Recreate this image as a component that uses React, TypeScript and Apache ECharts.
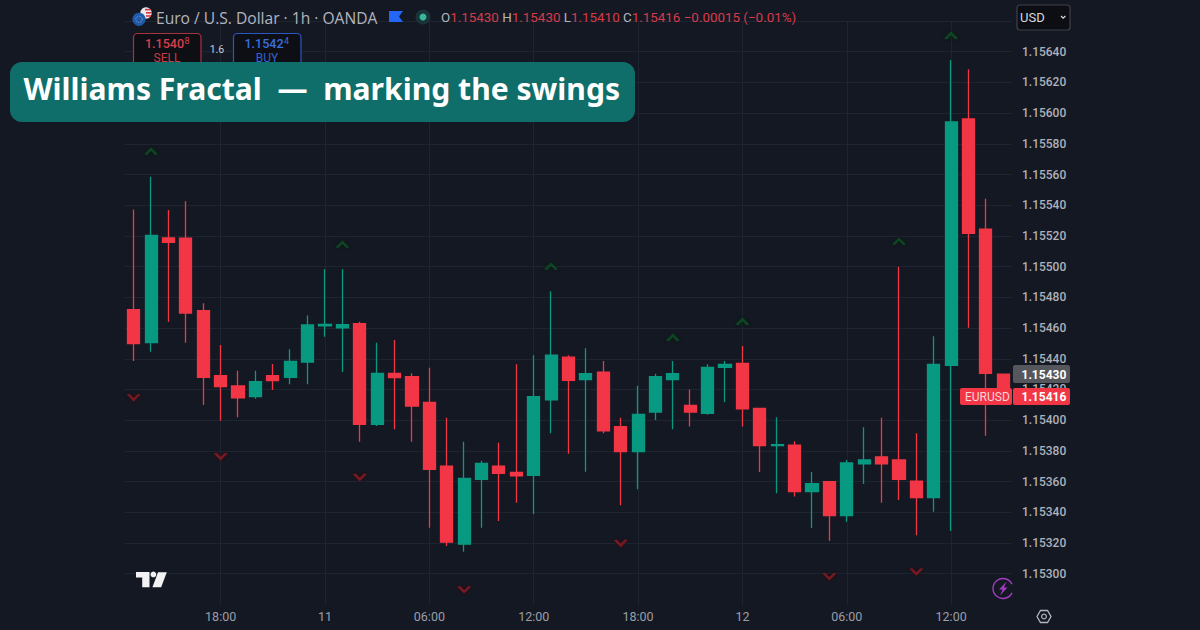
import React, { useEffect, useRef } from "react";
import * as echarts from "echarts";

const categories = ["13:00","14:00","15:00","16:00","17:00","18:00","19:00","20:00","21:00","22:00","23:00","11","01:00","02:00","03:00","04:00","05:00","06:00","07:00","08:00","09:00","10:00","11:00","12:00","13:00","14:00","15:00","16:00","17:00","18:00","19:00","20:00","21:00","22:00","23:00","12","01:00","02:00","03:00","04:00","05:00","06:00","07:00","08:00","09:00","10:00","11:00","12:00","13:00","14:00","15:00"];
const labelledSlots = [5, 11, 17, 23, 29, 35, 41, 47];

const opens = [1.15472,1.154505,1.155187,1.155185,1.154713,1.15429,1.154223,1.154153,1.15429,1.154279,1.154379,1.154615,1.154602,1.154628,1.153973,1.154305,1.154283,1.154116,1.1537,1.153192,1.153615,1.1537,1.15366,1.153641,1.154133,1.15441,1.154264,1.154312,1.153958,1.153795,1.154053,1.154264,1.154097,1.154045,1.154344,1.15437,1.154077,1.153834,1.153838,1.153534,1.153599,1.153378,1.153715,1.15376,1.153741,1.153602,1.153495,1.154357,1.155962,1.155245,1.1543];
const closes = [1.154498,1.155204,1.155159,1.154698,1.154279,1.154218,1.154146,1.154251,1.154257,1.154383,1.15462,1.154624,1.154622,1.153973,1.154305,1.154277,1.154092,1.15368,1.153205,1.153621,1.153719,1.153654,1.153638,1.154153,1.154423,1.15426,1.154303,1.153931,1.153795,1.154038,1.154283,1.154303,1.154053,1.154344,1.154364,1.154073,1.153834,1.15384,1.153534,1.153586,1.153378,1.153721,1.153741,1.153715,1.153615,1.153495,1.154364,1.155942,1.155217,1.154305,1.15416];
const lows = [1.154385,1.154446,1.154641,1.154505,1.154099,1.153997,1.154019,1.15414,1.154197,1.154234,1.154234,1.154544,1.154314,1.15386,1.153962,1.153941,1.15386,1.1533,1.15318,1.153143,1.1533,1.153343,1.153462,1.153389,1.153914,1.153782,1.153664,1.153914,1.153446,1.15355,1.154001,1.153941,1.153959,1.154035,1.154118,1.153958,1.153662,1.153524,1.153502,1.153298,1.153215,1.153339,1.153584,1.153462,1.15348,1.15325,1.153404,1.153278,1.154602,1.153899,1.1541];
const highs = [1.155373,1.155586,1.155369,1.155426,1.154761,1.15449,1.154322,1.154322,1.154366,1.154462,1.154681,1.154983,1.154983,1.154641,1.154505,1.154522,1.154305,1.154342,1.154016,1.15386,1.153736,1.153853,1.154364,1.154423,1.154839,1.154423,1.154468,1.154385,1.154016,1.154225,1.154303,1.154385,1.154199,1.154364,1.154385,1.154483,1.15408,1.154019,1.153862,1.153662,1.153602,1.153741,1.153954,1.154016,1.155,1.153914,1.154546,1.156346,1.156285,1.155443,1.1543];

const fractalUpSlots = [1, 12, 24, 31, 35, 44, 47];
const fractalUpPrices = [1.155747, 1.155141, 1.154998, 1.154535, 1.154639, 1.155161, 1.156502];
const fractalDownSlots = [0, 5, 13, 19, 28, 40, 45];
const fractalDownPrices = [1.154151, 1.153767, 1.153632, 1.1529, 1.153202, 1.152985, 1.153016];
const lastPrice = 1.15416;

const bg = "#141823";
const gridColor = "#1f2431";
const upColor = "#089981";
const downColor = "#f23645";
const chevronUp = "path://M0 9 L9 0 L18 9";
const chevronDown = "path://M0 0 L9 9 L18 0";
const uiFont = "Roboto, sans-serif";

function txt(text: string, x: number, y: number, fill: string, font: string, textAlign = "left", z = 50) {
  return { type: "text", z, style: { text, x, y, fill, font, textAlign, textVerticalAlign: "middle" } };
}
function box(x: number, y: number, w: number, h: number, r: number, fill: string, stroke?: string, z = 40) {
  return { type: "rect", z, shape: { x, y, width: w, height: h, r }, style: { fill, stroke, lineWidth: stroke ? 1.2 : 0 } };
}

const overlay: any[] = [
  // symbol flags
  { type: "circle", z: 40, shape: { cx: 146, cy: 13, r: 5.7 }, style: { fill: "#e8e8ee" } },
  { type: "rect", z: 40, shape: { x: 145, y: 8.8, width: 5.5, height: 1.6 }, style: { fill: "#d8323c" } },
  { type: "rect", z: 40, shape: { x: 146, y: 12, width: 5.7, height: 1.6 }, style: { fill: "#d8323c" } },
  { type: "rect", z: 40, shape: { x: 146, y: 15.2, width: 5, height: 1.6 }, style: { fill: "#d8323c" } },
  { type: "circle", z: 41, shape: { cx: 139, cy: 19.3, r: 6.6 }, style: { fill: "#1f5aa8" } },
  { type: "circle", z: 42, shape: { cx: 139, cy: 19.3, r: 3.2 }, style: { fill: "none", stroke: "#9fb4d8", lineWidth: 1, lineDash: [1, 1.5] } },
  txt("Euro / U.S. Dollar · 1h · OANDA", 156, 17.5, "#b2b5be", `15.6px "Open Sans", sans-serif`),
  { type: "polygon", z: 40, shape: { points: [[389, 11], [403, 11], [399, 16.5], [403, 22], [389, 22]] }, style: { fill: "#2466f5" } },
  { type: "circle", z: 40, shape: { cx: 423, cy: 17, r: 7.5 }, style: { fill: "#1a3338" } },
  { type: "circle", z: 41, shape: { cx: 423, cy: 17, r: 3.5 }, style: { fill: "#37b79c" } },
  {
    type: "text", z: 50,
    style: {
      x: 441, y: 17.5, textVerticalAlign: "middle", font: `13.4px ${uiFont}`,
      text: "{l|O}{v|1.15430} {l|H}{v|1.15430} {l|L}{v|1.15410} {l|C}{v|1.15416} {v|−0.00015 (−0.01%)}",
      rich: {
        l: { fill: "#b2b5be", font: `13.4px ${uiFont}` },
        v: { fill: "#d93a4a", font: `13.4px ${uiFont}` },
      },
    },
  },
  // sell and buy
  box(133.5, 33.5, 67.5, 34, 4, "#0e0f15", "#a83340"),
  txt("1.1540", 145, 43, "#d9404c", `500 12.5px ${uiFont}`),
  txt("8", 184.5, 40.5, "#d9404c", `9px ${uiFont}`),
  txt("SELL", 167, 57.5, "#c93a46", `12px ${uiFont}`, "center"),
  txt("1.6", 217, 49.5, "#c8cad0", `10.5px ${uiFont}`, "center"),
  box(233.5, 33.5, 67.5, 34, 4, "#0e0f15", "#2a56c0"),
  txt("1.1542", 244.5, 43, "#3a6fe0", `500 12.5px ${uiFont}`),
  txt("4", 284, 40.5, "#3a6fe0", `9px ${uiFont}`),
  txt("BUY", 267, 57.5, "#2f62d0", `12px ${uiFont}`, "center"),
  // banner
  box(10, 62, 625, 60, 12, "#0f6e69", undefined, 60),
  txt("Williams Fractal  —  marking the swings", 23.5, 88.5, "#ffffff", `bold 30.1px "Noto Sans", sans-serif`, "left", 61),
  // currency button
  box(1017, 5, 53, 25, 3, "#0c0e13", "#3d414c"),
  txt("USD", 1020, 17.5, "#d6d8de", `13px ${uiFont}`),
  { type: "polyline", z: 50, shape: { points: [[1061, 16], [1063.2, 18.2], [1065.4, 16]] }, style: { fill: "none", stroke: "#d6d8de", lineWidth: 1.2 } },
  // price tags
  box(1013, 365, 57, 18, 2, "#55575c"),
  txt("1.15430", 1021.5, 374.5, "#ffffff", `bold 12px ${uiFont}`),
  box(1013, 388, 57, 17, 2, "#f23645"),
  txt("1.15416", 1021.5, 397, "#ffffff", `bold 12px ${uiFont}`),
  box(960, 388, 52, 17, 2, "#f23645"),
  txt("EURUSD", 965, 397, "#fbd5d9", `12px ${uiFont}`),
  // logo
  { type: "polygon", z: 40, shape: { points: [[136, 572], [149.5, 572], [149.5, 587.3], [142.2, 587.3], [142.2, 577.6], [136, 577.6]] }, style: { fill: "#f2f2f2" } },
  { type: "circle", z: 40, shape: { cx: 153.4, cy: 574.4, r: 2.9 }, style: { fill: "#f2f2f2" } },
  { type: "polygon", z: 40, shape: { points: [[158, 572.2], [166.8, 572.2], [161.2, 587.3], [152.4, 587.3]] }, style: { fill: "#f2f2f2" } },
  // lightning
  { type: "arc", z: 40, shape: { cx: 1003, cy: 588.5, r: 10, startAngle: 0.45, endAngle: 5.83, clockwise: true }, style: { fill: "none", stroke: "#a33cbf", lineWidth: 1.4 } },
  { type: "polygon", z: 40, shape: { points: [[1006.5, 581.5], [999, 589.5], [1002.6, 589.5], [1000, 595.5], [1007.5, 587.5], [1003.9, 587.5]] }, style: { fill: "#a33cbf" } },
  // settings
  { type: "polygon", z: 40, shape: { points: [[1037, 616.5], [1040.5, 610.5], [1047.5, 610.5], [1051, 616.5], [1047.5, 622.5], [1040.5, 622.5]] }, style: { fill: "none", stroke: "#b2b5be", lineWidth: 1.3 } },
  { type: "circle", z: 40, shape: { cx: 1044, cy: 616.5, r: 2.4 }, style: { fill: "none", stroke: "#b2b5be", lineWidth: 1.2 } },
];

export default function App() {
  const ref = useRef<HTMLDivElement>(null);
  useEffect(() => {
    document.body.style.margin = "0";
    const chart = echarts.init(ref.current!, null, { renderer: "svg" });
    const isLabelled = (i: number) => labelledSlots.includes(i);
    chart.setOption({
      animation: false,
      backgroundColor: bg,
      grid: { left: 125, right: 188, top: 21, height: 583.4 },
      xAxis: {
        type: "category",
        data: categories,
        axisLine: { show: false },
        axisTick: { show: false },
        axisLabel: { interval: isLabelled, color: "#9a9ea8", fontFamily: "Roboto", fontSize: 12.5, margin: 6 },
        splitLine: { show: true, interval: isLabelled, alignWithLabel: true, lineStyle: { color: gridColor, width: 1 } },
      },
      yAxis: {
        type: "value",
        position: "right",
        min: 1.1528,
        max: 1.1566,
        interval: 0.0002,
        axisLine: { show: false },
        axisTick: { show: false },
        splitLine: { show: true, showMinLine: false, lineStyle: { color: gridColor, width: 1 } },
        axisLabel: {
          color: "#aeb1ba",
          fontFamily: "Roboto",
          fontSize: 12,
          fontWeight: 500,
          margin: 10,
          showMinLabel: false,
          showMaxLabel: false,
          formatter: (v: number) => v.toFixed(5),
        },
      },
      series: [
        {
          type: "candlestick",
          barWidth: 12.6,
          data: categories.map((_, i) => [opens[i], closes[i], lows[i], highs[i]]),
          itemStyle: { color: upColor, color0: downColor, borderColor: upColor, borderColor0: downColor, borderWidth: 1.3 },
          markLine: {
            silent: true,
            symbol: "none",
            label: { show: false },
            lineStyle: { color: "#f23645", type: [1, 3.6], width: 1, opacity: 0.75 },
            data: [{ yAxis: lastPrice }],
          },
        },
        {
          type: "scatter",
          symbol: chevronUp,
          symbolSize: [11, 5.5],
          itemStyle: { color: "transparent", borderColor: "#0f4f26", borderWidth: 2.2, shadowColor: "#04200e", shadowBlur: 4 },
          data: fractalUpSlots.map((s, i) => [s, fractalUpPrices[i]]),
        },
        {
          type: "scatter",
          symbol: chevronDown,
          symbolSize: [11, 5.5],
          itemStyle: { color: "transparent", borderColor: "#8c1c24", borderWidth: 2.2, shadowColor: "#300608", shadowBlur: 4 },
          data: fractalDownSlots.map((s, i) => [s, fractalDownPrices[i]]),
        },
      ],
      graphic: { elements: overlay },
    });
    return () => chart.dispose();
  }, []);
  return <div ref={ref} style={{ position: "fixed", left: 0, top: 0, width: 1200, height: 630 }} />;
}
